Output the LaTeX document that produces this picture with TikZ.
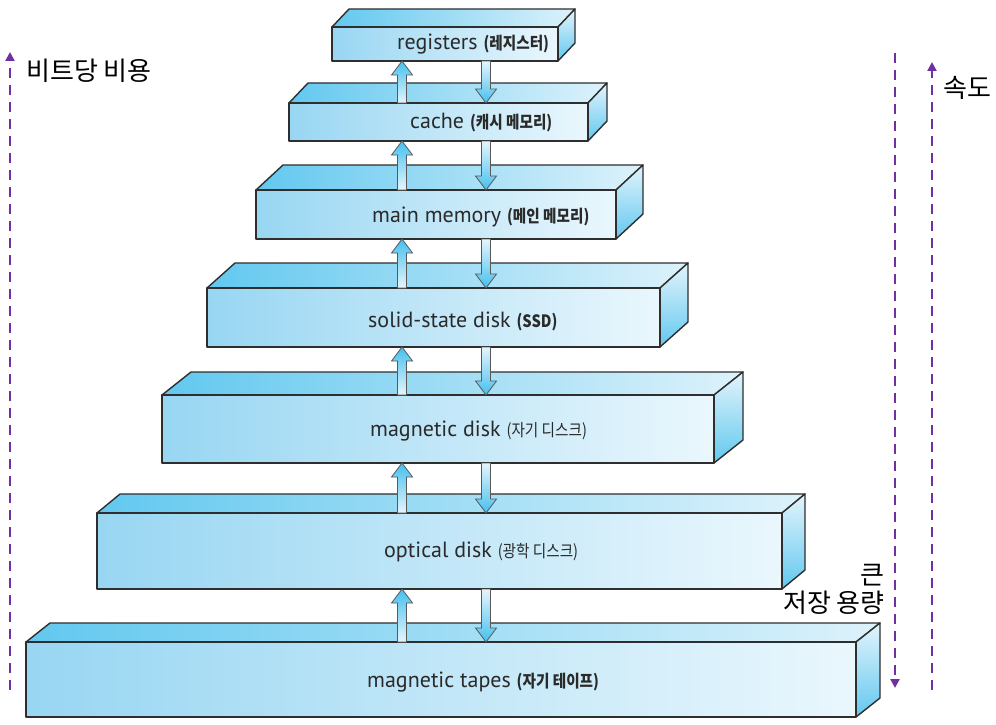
\documentclass[tikz,border=0pt]{standalone}
\usepackage{fontspec}
\setmainfont{PT Sans}
\newfontfamily\kor{Noto Sans CJK KR}
\newfontfamily\korn{Noto Sans CJK KR}[FakeStretch=0.86]
\usetikzlibrary{arrows.meta,calc}
\definecolor{edgec}{HTML}{2E2E2E}
\definecolor{frontL}{HTML}{98D6F2}
\definecolor{frontR}{HTML}{EAF7FD}
\definecolor{topL}{HTML}{62C8EF}
\definecolor{topR}{HTML}{DDF2FB}
\definecolor{sideT}{HTML}{E3F4FC}
\definecolor{sideB}{HTML}{62C8EF}
\definecolor{arrHead}{HTML}{45C0EE}
\definecolor{arrTail}{HTML}{E6F5FC}
\definecolor{purp}{HTML}{7030A0}
\definecolor{txt}{HTML}{2A2A2A}
\tikzset{
  face/.style={draw=edgec, line width=1.4pt, line join=round},
  lbl/.style={anchor=west, inner sep=0pt, text=txt, font=\fontsize{22}{24}\selectfont},
  side/.style={inner sep=0pt, text=black, font=\kor\fontsize{26}{28}\selectfont},
  dasharrow/.style={draw=purp, line width=2.2pt, dash pattern=on 10pt off 7pt, -{Triangle[length=9pt,width=9pt]}},
  blockarr/.style={draw=edgec!80, line width=0.8pt, line join=miter}
}
\newcommand{\kb}{\korn\fontsize{17}{18}\selectfont\bfseries}
\newcommand{\kr}{\korn\fontsize{17}{18}\selectfont}
% box: name, xl, xr, yt, yb, dx, dy
\newcommand{\memBox}[7]{%
  \coordinate (#1-fl) at (#2,#4);
  \coordinate (#1-fr) at (#3,#4);
  \coordinate (#1-bl) at (#2,#5);
  \coordinate (#1-br) at (#3,#5);
  \shade[face, left color=topL, right color=topR] (#2,#4) -- ($(#2,#4)+(#6,-#7)$) -- ($(#3,#4)+(#6,-#7)$) -- (#3,#4) -- cycle;
  \shade[face, top color=sideT, bottom color=sideB] (#3,#4) -- ($(#3,#4)+(#6,-#7)$) -- ($(#3,#5)+(#6,-#7)$) -- (#3,#5) -- cycle;
  \shade[face, left color=frontL, right color=frontR] (#2,#4) rectangle (#3,#5);
}
\newcommand{\upArr}[2]{%
  \shade[blockarr, top color=arrHead, bottom color=arrTail]
    let \p1=(#1), \p2=(#2) in
    (\x1-4.5pt,\y1) -- (\x1-4.5pt,\y2-14pt) -- (\x1-10.5pt,\y2-14pt) -- (\x1,\y2)
    -- (\x1+10.5pt,\y2-14pt) -- (\x1+4.5pt,\y2-14pt) -- (\x1+4.5pt,\y1) -- cycle;
}
\newcommand{\downArr}[2]{%
  \shade[blockarr, top color=arrTail, bottom color=arrHead]
    let \p1=(#1), \p2=(#2) in
    (\x1-4.5pt,\y1) -- (\x1-4.5pt,\y2+14pt) -- (\x1-10.5pt,\y2+14pt) -- (\x1,\y2)
    -- (\x1+10.5pt,\y2+14pt) -- (\x1+4.5pt,\y2+14pt) -- (\x1+4.5pt,\y1) -- cycle;
}
\begin{document}
\begin{tikzpicture}[x=1pt,y=-1pt]
\useasboundingbox (0,0) rectangle (996,725);
\fill[white] (0,0) rectangle (996,725);

\memBox{b1}{332}{558}{27}{61}{17}{18}
\memBox{b2}{289}{588}{103}{141}{19}{20}
\memBox{b3}{256}{616}{190}{239}{27}{25}
\memBox{b4}{207}{660}{288}{347}{28}{25}
\memBox{b5}{162}{714}{395}{463}{29}{23}
\memBox{b6}{97}{782}{513}{589}{23}{19}
\memBox{b7}{26}{856}{642}{717}{24}{19}

\node[lbl] (l1) at (397,44) {registers \kb(레지스터)};
\node[lbl] (l2) at (410,123) {cache \kb(캐시 메모리)};
\node[lbl] (l3) at (372,217) {main memory \kb(메인 메모리)};
\node[lbl] (l4) at (368,321) {solid-state disk \kb(SSD)};
\node[lbl] (l5) at (370,431) {magnetic disk \kr(자기 디스크)};
\node[lbl] (l6) at (384,552) {optical disk \kr(광학 디스크)};
\node[lbl] (l7) at (367,682) {magnetic tapes \kb(자기 테이프)};

% arrow anchor coordinates
\foreach \i/\yt/\yb in {1/61/103, 2/141/190, 3/239/288, 4/347/395, 5/463/513, 6/589/642}{
  \coordinate (u\i-tip) at (402,\yt);
  \coordinate (u\i-tail) at (402,\yb);
  \coordinate (d\i-tail) at (486,\yt);
  \coordinate (d\i-tip) at (486,\yb);
}
\foreach \i in {1,...,6}{
  \upArr{u\i-tail}{u\i-tip}
  \downArr{d\i-tail}{d\i-tip}
}

% dashed side arrows
\coordinate (cL0) at (10,690); \coordinate (cL1) at (10,52);
\coordinate (cR0) at (895,53); \coordinate (cR1) at (895,688);
\coordinate (cS0) at (932,690); \coordinate (cS1) at (932,62);
\draw[dasharrow] (cL0) -- (cL1);
\draw[dasharrow] (cR0) -- (cR1);
\draw[dasharrow] (cS0) -- (cS1);

\node[side, anchor=west] (cost) at (26,71) {비트당 비용};
\node[side, anchor=west] (speed) at (943,88) {속도};
\node[side, anchor=east] (big) at (885,575) {큰};
\node[side, anchor=east] (cap) at (885,603) {저장 용량};
\end{tikzpicture}
\end{document}
